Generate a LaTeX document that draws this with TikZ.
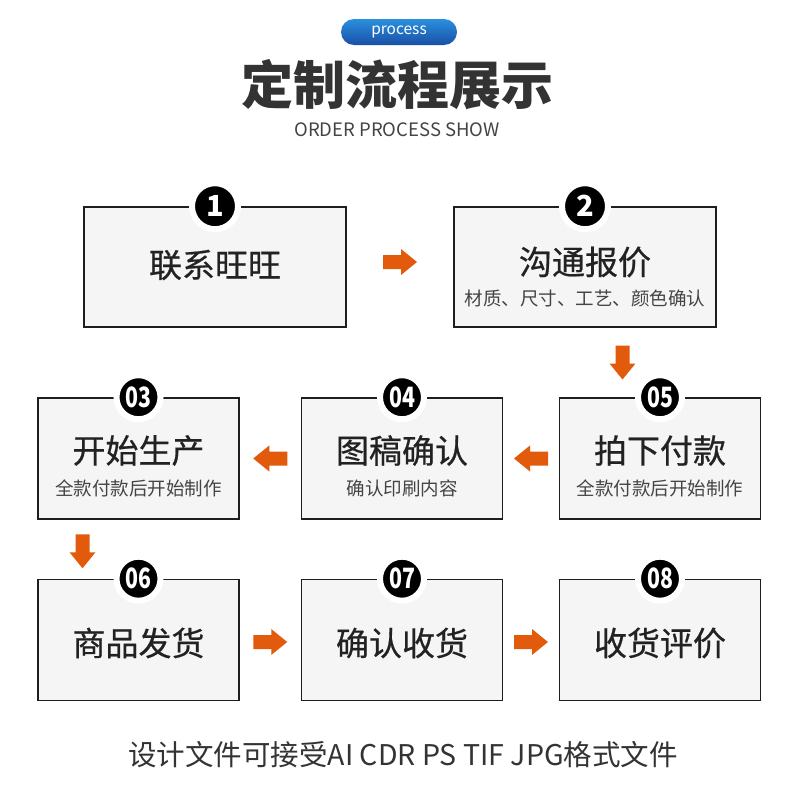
\documentclass[tikz,border=0pt]{standalone}
\usepackage{fontspec}
\setmainfont{Noto Sans CJK SC}
\newfontfamily\medfont{Noto Sans CJK SC}[FakeBold=0.6]
\usetikzlibrary{calc}
\definecolor{arrowor}{HTML}{E25A0C}
\definecolor{boxfill}{HTML}{F5F5F5}
\definecolor{boxline}{HTML}{1E1E1E}
\definecolor{pilltop}{HTML}{2A90DE}
\definecolor{pillbot}{HTML}{1A4FA6}
\definecolor{titlecol}{HTML}{333333}
\definecolor{maincol}{HTML}{222222}
\definecolor{subcol}{HTML}{444444}
\tikzset{
  bigbox/.style={draw=boxline, line width=1.6pt, fill=boxfill, minimum width=262, minimum height=120, inner sep=0pt},
  smallbox/.style={draw=boxline, line width=1.6pt, fill=boxfill, minimum width=201, minimum height=121, inner sep=0pt},
  badge/.style={circle, fill=black, draw=white, line width=6pt, minimum size=46, inner sep=0pt, text=white, font=\bfseries\fontsize{29}{29}\selectfont},
  smallbadge/.style={badge, minimum size=44, font=\bfseries\fontsize{28}{28}\selectfont},
  maintext/.style={text=maincol, font=\medfont\fontsize{33}{33}\selectfont, inner sep=0pt},
  subtext/.style={text=subcol, font=\fontsize{18.5}{18.5}\selectfont, inner sep=0pt},
  blockarr/.pic={\fill[arrowor] (-17,-7) -- (1,-7) -- (1,-13) -- (17,0) -- (1,13) -- (1,7) -- (-17,7) -- cycle;},
}
\newcommand{\twodig}[1]{\scalebox{0.76}[1]{#1}}
\begin{document}
\begin{tikzpicture}[x=1pt,y=-1pt]
\useasboundingbox (0,0) rectangle (790,795);
\fill[white] (0,0) rectangle (790,795);
% header
\node[rounded corners=13pt, top color=pilltop, bottom color=pillbot, minimum width=116, minimum height=26, inner sep=0pt, text=white, font=\fontsize{15.5}{15.5}\selectfont] (pill) at (399,32) {process};
\node[text=titlecol, font=\bfseries\fontsize{52}{52}\selectfont, inner sep=0pt] (title) at (397,85) {定制流程展示};
\node[text=subcol, font=\fontsize{18.5}{18.5}\selectfont, inner sep=0pt] (subtitle) at (397,130) {ORDER PROCESS SHOW};
% row 1
\node[bigbox] (b1) at (215,267) {};
\node[bigbox] (b2) at (585,267) {};
% row 2
\node[smallbox] (b3) at (138.5,458.5) {};
\node[smallbox] (b4) at (402,458.5) {};
\node[smallbox] (b5) at (660,458.5) {};
% row 3
\node[smallbox] (b6) at (138.5,640) {};
\node[smallbox] (b7) at (402,640) {};
\node[smallbox] (b8) at (660,640) {};
% texts
\node[maintext] (t1) at ($(b1.center)+(0,-2)$) {联系旺旺};
\node[maintext] (t2) at ($(b2.center)+(0,-5)$) {沟通报价};
\node[subtext] (s2) at ($(b2.center)+(0,31)$) {材质、尺寸、工艺、颜色确认};
\node[maintext] (t3) at ($(b3.center)+(0,-8)$) {开始生产};
\node[subtext] (s3) at ($(b3.center)+(0,30)$) {全款付款后开始制作};
\node[maintext] (t4) at ($(b4.center)+(0,-8)$) {图稿确认};
\node[subtext] (s4) at ($(b4.center)+(0,30)$) {确认印刷内容};
\node[maintext] (t5) at ($(b5.center)+(0,-8)$) {拍下付款};
\node[subtext] (s5) at ($(b5.center)+(0,30)$) {全款付款后开始制作};
\node[maintext] (t6) at ($(b6.center)+(0,3)$) {商品发货};
\node[maintext] (t7) at ($(b7.center)+(0,3)$) {确认收货};
\node[maintext] (t8) at ($(b8.center)+(0,3)$) {收货评价};
% badges
\node[badge] (n1) at (b1.north) {1};
\node[badge] (n2) at (b2.north) {2};
\node[smallbadge] (n3) at (b3.north) {\twodig{03}};
\node[smallbadge] (n4) at (b4.north) {\twodig{04}};
\node[smallbadge] (n5) at (b5.north) {\twodig{05}};
\node[smallbadge] (n6) at (b6.north) {\twodig{06}};
\node[smallbadge] (n7) at (b7.north) {\twodig{07}};
\node[smallbadge] (n8) at (b8.north) {\twodig{08}};
% arrows
\coordinate (a12) at ($(b1.east)!0.5!(b2.west)+(0,-5)$);
\coordinate (a25) at ($(b2.south)!0.5!(b5.north)$);
\coordinate (a54) at ($(b4.east)!0.5!(b5.west)$);
\coordinate (a43) at ($(b3.east)!0.5!(b4.west)$);
\coordinate (a36) at ($(b3.south)!0.5!(b6.north)+(-56,2)$);
\coordinate (a67) at ($(b6.east)!0.5!(b7.west)+(0,2)$);
\coordinate (a78) at ($(b7.east)!0.5!(b8.west)+(0,2)$);
\pic at (a12) {blockarr};
\pic[rotate=-90] at (a25) {blockarr};
\pic[rotate=180] at (a54) {blockarr};
\pic[rotate=180] at (a43) {blockarr};
\pic[rotate=-90] at (a36) {blockarr};
\pic at (a67) {blockarr};
\pic at (a78) {blockarr};
% footer
\node[text=titlecol, font=\fontsize{28.5}{28.5}\selectfont, inner sep=0pt] (foot) at (403,755) {设计文件可接受AI CDR PS TIF JPG格式文件};
\end{tikzpicture}
\end{document}
